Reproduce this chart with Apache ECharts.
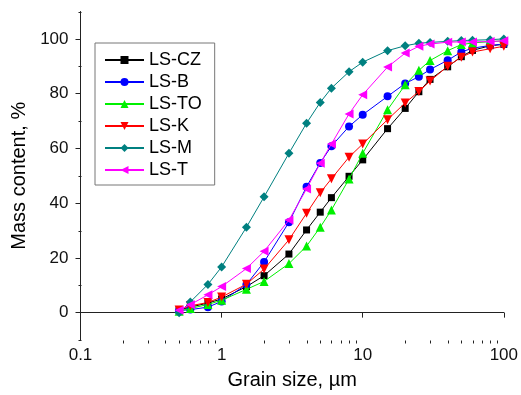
<!DOCTYPE html>
<html><head><meta charset="utf-8">
<script src="https://cdn.jsdelivr.net/npm/echarts@6/dist/echarts.min.js"></script>
<style>html,body{margin:0;padding:0;background:#fff}#c{width:521px;height:395px}</style>
</head><body><div id="c"></div>
<script>
const grainSizes = [0.5, 0.6, 0.8, 1, 1.5, 2, 3, 4, 5, 6, 8, 10, 15, 20, 25, 30, 40, 50, 60, 80, 100];
const seriesNames = ['LS-CZ', 'LS-B', 'LS-TO', 'LS-K', 'LS-M', 'LS-T'];
const lsCZ = [1, 2, 3.5, 5, 9.5, 13.5, 21.4, 30.2, 36.7, 42, 49.8, 55.8, 67.2, 74.6, 80.7, 85.2, 89.8, 93.5, 95.8, 97.5, 98];
const lsB  = [0.8, 1.1, 2, 4.1, 10.3, 18.5, 33, 46, 54.7, 60.8, 68, 72.3, 79, 83.7, 86.2, 88.8, 92.2, 95.2, 96.6, 97.6, 98.1];
const lsTO = [0.5, 1.5, 3, 4.5, 8.5, 11.4, 17.9, 24.3, 31.2, 37.5, 48.8, 58.2, 74.1, 83.2, 88.5, 92.1, 95.7, 97.9, 98.5, 99, 99.3];
const lsK  = [1, 2.5, 3.7, 5.7, 10.4, 15.9, 26.6, 36.3, 43.8, 48.9, 56.8, 61.6, 70.5, 76.6, 80.8, 84.6, 90, 93.3, 95.2, 96.4, 97.3];
const lsM  = [0, 3.9, 10.3, 16.7, 31.2, 42.3, 58.2, 69.2, 76.8, 82, 88, 91.5, 95.7, 97.5, 98.4, 98.7, 99.1, 99.4, 99.5, 99.7, 100];
const lsT  = [0.9, 2.9, 6.5, 9.5, 16.1, 22.4, 33.8, 45.2, 54.6, 61.6, 72.6, 79.6, 89.7, 94.8, 97.3, 98.1, 98.8, 98.9, 98.9, 99, 99.3];
const xMajorTicks = [0.1, 1, 10, 100];
const xMinorTicks = [0.2, 0.3, 0.4, 0.5, 0.6, 0.7, 0.8, 0.9, 2, 3, 4, 5, 6, 7, 8, 9, 20, 30, 40, 50, 60, 70, 80, 90];
const yMajorTicks = [0, 20, 40, 60, 80, 100];
const yMinorTicks = [-10, 10, 30, 50, 70, 90, 110];

const allValues = [lsCZ, lsB, lsTO, lsK, lsM, lsT];
const colors = ['#000000', '#0000ff', '#00f000', '#ff0000', '#008080', '#ff00ff'];
const symbols = ['rect', 'circle', 'triangle', 'triangle', 'diamond', 'triangle'];
const rotates = [0, 0, 0, 180, 0, 90];
const symSizes = [7, 8, 9, 9, 9, 9];

const FONT = 'Liberation Sans, Arial, sans-serif';
const TICK = '#222';
const axisLineStyle = {color: TICK, width: 1};
const X_MIN = 0.1, X_MAX = 100, Y_MIN = -10, Y_MAX = 110;

function minorTickSeries(values, dir) {
  return {
    type: 'custom', silent: true, clip: false, z: 1,
    xAxisIndex: 0, yAxisIndex: 0,
    data: values.map(v => dir === 'x' ? [v, Y_MIN] : [X_MIN, v]),
    renderItem: (params, api) => {
      const p = api.coord([api.value(0), api.value(1)]);
      const x = Math.round(p[0]) + 0.5, y = Math.round(p[1]) + 0.5;
      const shape = dir === 'x' ? {x1: x, y1: y, x2: x, y2: y + 3} : {x1: x - 3, y1: y, x2: x, y2: y};
      return {type: 'line', shape, style: {stroke: TICK, lineWidth: 1}};
    }
  };
}

const chart = echarts.init(document.getElementById('c'), null, {renderer: 'canvas'});
chart.setOption({
  animation: false,
  backgroundColor: '#fff',
  grid: {left: 80.5, right: 15, top: 11.5, bottom: 53},
  legend: {
    orient: 'vertical',
    left: 95, top: 43,
    padding: [8, 13, 6, 9],
    borderColor: '#777', borderWidth: 1, borderRadius: 0,
    itemWidth: 39, itemHeight: 10, itemGap: 4,
    textStyle: {fontSize: 18, fontFamily: FONT, color: '#000', lineHeight: 18},
    data: seriesNames
  },
  xAxis: [{
    type: 'log', logBase: 10, min: X_MIN, max: X_MAX,
    name: 'Grain size, µm', nameLocation: 'middle', nameGap: 30,
    nameTextStyle: {fontSize: 20, fontFamily: FONT, color: '#000'},
    axisLine: {show: true, lineStyle: axisLineStyle},
    axisTick: {show: true, inside: false, length: 5, lineStyle: axisLineStyle, customValues: xMajorTicks},
    axisLabel: {fontSize: 17, fontFamily: FONT, color: '#111', margin: 7, customValues: xMajorTicks,
      formatter: v => String(+(+v).toPrecision(3))},
    splitLine: {show: false}, minorTick: {show: false}
  }],
  yAxis: [{
    type: 'value', min: Y_MIN, max: Y_MAX, position: 'left',
    name: 'Mass content, %', nameLocation: 'middle', nameGap: 50, nameRotate: 90,
    nameTextStyle: {fontSize: 20, fontFamily: FONT, color: '#000'},
    axisLine: {show: true, lineStyle: axisLineStyle},
    axisTick: {show: true, inside: false, length: 5, lineStyle: axisLineStyle, customValues: yMajorTicks},
    axisLabel: {fontSize: 17, fontFamily: FONT, color: '#111', margin: 12, customValues: yMajorTicks},
    splitLine: {show: false}
  }],
  series: [minorTickSeries(xMinorTicks, 'x'), minorTickSeries(yMinorTicks, 'y')].concat(
    seriesNames.map((name, i) => ({
      name, type: 'line',
      xAxisIndex: 0, yAxisIndex: 0,
      data: grainSizes.map((x, j) => [x, allValues[i][j]]),
      symbol: symbols[i], symbolSize: symSizes[i], symbolRotate: rotates[i],
      showAllSymbol: true,
      color: colors[i],
      itemStyle: {color: colors[i], borderWidth: 0},
      lineStyle: {color: colors[i], width: 1},
      clip: false, z: 2 + i
    })))
});
</script></body></html>
